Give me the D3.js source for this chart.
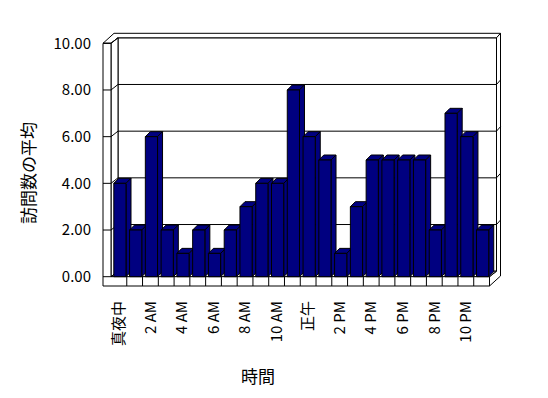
<!DOCTYPE html>
<html>
<head>
<meta charset="utf-8">
<script src="https://cdn.jsdelivr.net/npm/d3@7"></script>
<style>
  body { margin: 0; background: #fff; }
  svg { display: block; font-family: "Noto Sans CJK JP", "Noto Sans", sans-serif; }
</style>
</head>
<body>
<svg width="548" height="398"></svg>
<script>
// data
const hours = ["真夜中", "1 AM", "2 AM", "3 AM", "4 AM", "5 AM", "6 AM", "7 AM", "8 AM", "9 AM", "10 AM", "11 AM",
  "正午", "1 PM", "2 PM", "3 PM", "4 PM", "5 PM", "6 PM", "7 PM", "8 PM", "9 PM", "10 PM", "11 PM"];
const visits = [4, 2, 6, 2, 1, 2, 1, 2, 3, 4, 4, 8, 6, 5, 1, 3, 5, 5, 5, 5, 2, 7, 6, 2];
const yTicks = [0, 2, 4, 6, 8, 10];
const shownHours = hours.filter((h, i) => i % 2 === 0);

const yTitle = "訪問数の平均";
const xTitle = "時間";

// layout of the fake 3d box
const xL = 103, xI = 111, xR = 489.5;
const yTop = 43.3, yFloor = 276.7, yBottom = 286;
const d1 = [7, -5.5];   // front -> inner face of back wall
const d2 = [11, -10];   // front -> outer face of back wall
const barDepth = 5;
const navy = "#000080";

let svg = d3.select("svg");

let x = d3.scaleBand()
  .domain(hours)
  .range([xI, xR])
  .paddingInner(0);

let y = d3.scaleLinear()
  .domain([0, 10])
  .range([yFloor, yTop]);

const off = (p, d) => [p[0] + d[0], p[1] + d[1]];
const line = d3.line();

function face(points, fill) {
  svg.append("path")
    .attr("d", line(points) + "Z")
    .attr("fill", fill || "#fff")
    .attr("stroke", "#000")
    .attr("stroke-width", 1)
    .attr("stroke-linejoin", "miter");
}

// back wall, inner face
face([off([xI, yTop], d1), off([xR, yTop], d1), off([xR, yFloor], d1), off([xI, yFloor], d1)]);

// gridlines on the back wall
svg.append("g").selectAll("line")
  .data(yTicks.filter(t => t > 0 && t < 10))
  .enter()
  .append("line")
  .attr("x1", xI + d1[0])
  .attr("x2", xR + d1[0])
  .attr("y1", d => y(d) + d1[1])
  .attr("y2", d => y(d) + d1[1])
  .attr("stroke", "#000");

// top edge of walls
face([[xL, yTop], [xI, yTop], off([xI, yTop], d1), off([xR, yTop], d1), off([xR, yTop], d2), off([xL, yTop], d2)]);

// left wall inner face
face([[xI, yTop], off([xI, yTop], d1), off([xI, yFloor], d1), [xI, yFloor]]);

// right side of wall + floor
face([[xR, yFloor], [xR, yBottom], off([xR, yBottom], d2), off([xR, yTop], d2), off([xR, yTop], d1), off([xR, yFloor], d1)]);

// floor top
face([[xI, yFloor], [xR, yFloor], off([xR, yFloor], d1), off([xI, yFloor], d1)]);

// left wall front + floor front
face([[xL, yTop], [xI, yTop], [xI, yFloor], [xR, yFloor], [xR, yBottom], [xL, yBottom]]);

// value ticks on the left wall, with the little diagonal back to the wall
let tickG = svg.append("g");
tickG.selectAll("path")
  .data(yTicks)
  .enter()
  .append("path")
  .attr("d", d => line([[xL, y(d)], [xI, y(d)], off([xI, y(d)], d1)]))
  .attr("fill", "none")
  .attr("stroke", "#000");

// right edge ticks
tickG.selectAll(".rt")
  .data(yTicks.filter(t => t > 0 && t < 10))
  .enter()
  .append("path")
  .attr("class", "rt")
  .attr("d", d => line([off([xR, y(d)], d1), off([xR, y(d)], d2)]))
  .attr("stroke", "#000");

// category dividers on the floor front
svg.append("g").selectAll("line")
  .data(hours.slice(1))
  .enter()
  .append("line")
  .attr("x1", d => x(d))
  .attr("x2", d => x(d))
  .attr("y1", yFloor)
  .attr("y2", yBottom)
  .attr("stroke", "#000");

// bars
const bw = x.bandwidth();
let bars = svg.append("g").selectAll("g")
  .data(hours.map((h, i) => ({ hour: h, value: visits[i] })))
  .enter()
  .append("g");

bars.each(function (d) {
  let g = d3.select(this);
  let x1 = x(d.hour) + 2.8;
  let x2 = x1 + 12.2;
  let yv = y(d.value);
  let bd = [barDepth, -barDepth];
  let shapes = [
    [[x1, yv], [x2, yv], off([x2, yv], bd), off([x1, yv], bd)],
    [[x2, yv], off([x2, yv], bd), off([x2, yFloor], bd), [x2, yFloor]],
    [[x1, yv], [x2, yv], [x2, yFloor], [x1, yFloor]]
  ];
  g.selectAll("path")
    .data(shapes)
    .enter()
    .append("path")
    .attr("d", p => line(p) + "Z")
    .attr("fill", navy)
    .attr("stroke", "#000");
});

// axis labels
let yAxis = svg.append("g")
  .attr("transform", `translate(${xL},0)`)
  .call(d3.axisLeft(y).tickValues(yTicks).tickFormat(d3.format(".2f")).tickSize(0).tickPadding(12));
yAxis.select(".domain").remove();
yAxis.selectAll("text")
  .attr("font-size", 15)
  .attr("font-family", "'Noto Sans CJK JP', sans-serif")
  .attr("fill", "#000");

let xAxis = svg.append("g")
  .attr("transform", `translate(0,${yBottom})`)
  .call(d3.axisBottom(x).tickValues(shownHours).tickSize(0));
xAxis.select(".domain").remove();
xAxis.selectAll("text")
  .attr("transform", "rotate(-90)")
  .attr("x", -15)
  .attr("y", 0)
  .attr("dy", "0.35em")
  .attr("text-anchor", "end")
  .attr("font-size", 15)
  .attr("font-family", "'Noto Sans CJK JP', sans-serif")
  .attr("fill", "#000");

// titles
svg.append("text")
  .attr("transform", "translate(29,173) rotate(-90)")
  .attr("text-anchor", "middle")
  .attr("dy", "0.35em")
  .attr("font-size", 17)
  .text(yTitle);

svg.append("text")
  .attr("x", 258)
  .attr("y", 377)
  .attr("text-anchor", "middle")
  .attr("dy", "0.35em")
  .attr("font-size", 17)
  .text(xTitle);
</script>
</body>
</html>
